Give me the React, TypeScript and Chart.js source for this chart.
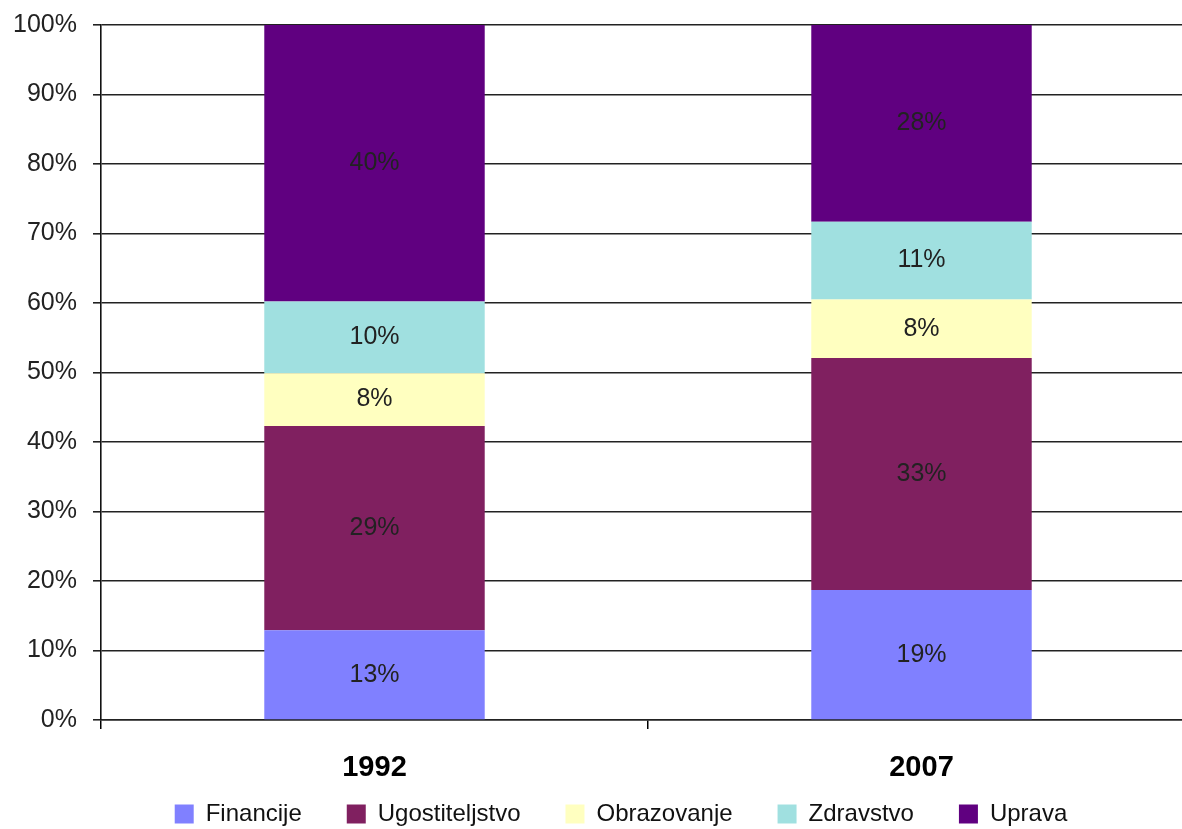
import React, { useEffect, useRef } from "react";
import { Chart, registerables } from "chart.js";

Chart.register(...registerables);

const categories = ["1992", "2007"];
const seriesNames = ["Financije", "Ugostiteljstvo", "Obrazovanje", "Zdravstvo", "Uprava"];
const financije = [12.9, 18.7];
const ugostiteljstvo = [29.4, 33.4];
const obrazovanje = [7.6, 8.4];
const zdravstvo = [10.3, 11.2];
const uprava = [39.8, 28.3];
const seriesColors = ["#8080FF", "#802060", "#FFFFC0", "#A0E0E0", "#600080"];
const yTicks = [0, 10, 20, 30, 40, 50, 60, 70, 80, 90, 100];

const FONT = "'Liberation Sans', Arial, sans-serif";

const dataLabels = {
  id: "dataLabels",
  afterDatasetsDraw(chart: any) {
    const ctx = chart.ctx;
    ctx.save();
    ctx.font = `25px ${FONT}`;
    ctx.fillStyle = "#222";
    ctx.textAlign = "center";
    ctx.textBaseline = "middle";
    chart.data.datasets.forEach((ds: any, di: number) => {
      const meta = chart.getDatasetMeta(di);
      meta.data.forEach((el: any, i: number) => {
        const v = ds.data[i];
        const y = (el.y + el.base) / 2;
        ctx.fillText(Math.round(v) + "%", el.x, y);
      });
    });
    ctx.restore();
  },
};

export default function App() {
  const ref = useRef<HTMLCanvasElement | null>(null);
  useEffect(() => {
    if (!ref.current) return;
    const values = [financije, ugostiteljstvo, obrazovanje, zdravstvo, uprava];
    const chart = new Chart(ref.current, {
      type: "bar",
      data: {
        labels: categories,
        datasets: seriesNames.map((name, i) => ({
          label: name,
          data: values[i],
          backgroundColor: seriesColors[i],
          borderWidth: 0,
          barPercentage: 0.403,
          categoryPercentage: 1,
        })),
      },
      options: {
        responsive: false,
        animation: false,
        devicePixelRatio: 1,
        layout: { padding: { top: 25, bottom: 0, left: 0, right: 0 } },
        plugins: {
          tooltip: { enabled: false },
          legend: {
            position: "bottom",
            labels: {
              font: { family: FONT, size: 24 },
              color: "#111",
              boxWidth: 19,
              boxHeight: 19,
              padding: 45,
            },
          },
        },
        scales: {
          x: {
            stacked: true,
            grid: {
              offset: true,
              drawOnChartArea: false,
              drawTicks: true,
              tickLength: 9,
              color: "#000",
              lineWidth: 1.5,
            },
            border: { display: true, color: "#222", width: 1.5 },
            ticks: {
              font: { family: FONT, size: 29, weight: "bold" },
              color: "#000",
              padding: 22,
            },
            afterFit: (s: any) => {
              s.height = 37;
              // let the tick labels extend below the (short) axis box
              s._computeLabelArea = () => undefined;
            },
          },
          y: {
            stacked: true,
            min: 0,
            max: 100,
            afterBuildTicks: (s: any) => {
              s.ticks = yTicks.map((v) => ({ value: v }));
            },
            grid: {
              color: "#222",
              lineWidth: 1.6,
              drawTicks: true,
              tickLength: 8,
            },
            border: { display: true, color: "#111", width: 1.6 },
            ticks: {
              font: { family: FONT, size: 25 },
              color: "#222",
              padding: 16,
              callback: (v: any) => v + "%",
            },
            afterFit: (s: any) => {
              s.width = 101;
              s.paddingTop = 0;
            },
          },
          yR: {
            position: "right",
            display: true,
            grid: { display: false },
            border: { display: false },
            ticks: { display: false },
            afterFit: (s: any) => {
              s.width = 47;
            },
          },
        },
      },
      plugins: [dataLabels],
    } as any);
    return () => chart.destroy();
  }, []);
  return (
    <div
      style={{
        position: "fixed",
        left: 0,
        top: 0,
        width: 1182,
        height: 829,
        overflow: "hidden",
        background: "#fff",
      }}
    >
      <canvas ref={ref} width={1242} height={836} style={{ display: "block" }} />
    </div>
  );
}
